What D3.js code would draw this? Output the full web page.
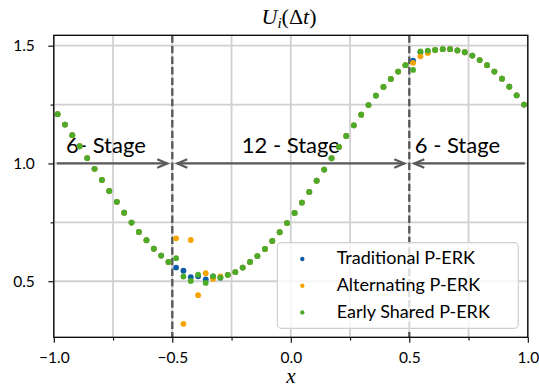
<!DOCTYPE html>
<html>
<head>
<meta charset="utf-8">
<script src="https://cdn.jsdelivr.net/npm/d3@7"></script>
<style>
  body { margin: 0; background: #fff; }
  svg { display: block; }
</style>
</head>
<body>
<svg id="chart" width="539" height="387"></svg>
<script>
// Cell-centre coordinates of the 64-cell grid on [-1, 1]
const cellX = [
  -0.984, -0.953, -0.922, -0.891, -0.859, -0.828, -0.797, -0.766,
  -0.734, -0.703, -0.672, -0.641, -0.609, -0.578, -0.547, -0.516,
  -0.484, -0.453, -0.422, -0.391, -0.359, -0.328, -0.297, -0.266,
  -0.234, -0.203, -0.172, -0.141, -0.109, -0.078, -0.047, -0.016,
   0.016,  0.047,  0.078,  0.109,  0.141,  0.172,  0.203,  0.234,
   0.266,  0.297,  0.328,  0.359,  0.391,  0.422,  0.453,  0.484,
   0.516,  0.547,  0.578,  0.609,  0.641,  0.672,  0.703,  0.734,
   0.766,  0.797,  0.828,  0.859,  0.891,  0.922,  0.953,  0.984
];

// U_i after one step, per scheme
const traditional = [
  1.209, 1.165, 1.120, 1.073, 1.023, 0.977, 0.930, 0.883, 0.837, 0.791,
  0.749, 0.709, 0.674, 0.638, 0.609, 0.582, 0.558, 0.545, 0.517, 0.521,
  0.508, 0.521, 0.515, 0.527, 0.539, 0.558, 0.582, 0.607, 0.637, 0.671,
  0.708, 0.747, 0.790, 0.834, 0.879, 0.927, 0.974, 1.022, 1.070, 1.117,
  1.162, 1.207, 1.248, 1.288, 1.325, 1.359, 1.390, 1.417, 1.436, 1.472,
  1.476, 1.482, 1.485, 1.485, 1.480, 1.472, 1.458, 1.439, 1.417, 1.390,
  1.360, 1.326, 1.289, 1.250
];
const alternating = [
  1.209, 1.165, 1.120, 1.073, 1.023, 0.977, 0.930, 0.883, 0.837, 0.791,
  0.749, 0.709, 0.674, 0.638, 0.609, 0.582, 0.682, 0.319, 0.675, 0.441,
  0.534, 0.510, 0.520, 0.527, 0.539, 0.558, 0.582, 0.607, 0.637, 0.671,
  0.708, 0.747, 0.790, 0.834, 0.879, 0.927, 0.974, 1.022, 1.070, 1.117,
  1.162, 1.207, 1.248, 1.288, 1.325, 1.359, 1.390, 1.417, 1.427, 1.455,
  1.469, 1.482, 1.485, 1.485, 1.480, 1.472, 1.458, 1.439, 1.417, 1.390,
  1.360, 1.326, 1.289, 1.250
];
const earlyShared = [
  1.209, 1.165, 1.120, 1.073, 1.023, 0.977, 0.930, 0.883, 0.837, 0.791,
  0.749, 0.709, 0.674, 0.638, 0.609, 0.582, 0.598, 0.520, 0.501, 0.528,
  0.493, 0.521, 0.515, 0.527, 0.539, 0.558, 0.582, 0.607, 0.637, 0.671,
  0.708, 0.747, 0.790, 0.834, 0.879, 0.927, 0.974, 1.022, 1.070, 1.117,
  1.162, 1.207, 1.248, 1.288, 1.325, 1.359, 1.390, 1.417, 1.397, 1.476,
  1.479, 1.482, 1.485, 1.485, 1.480, 1.472, 1.458, 1.439, 1.417, 1.390,
  1.360, 1.326, 1.289, 1.250
];

const seriesNames = ["Traditional P-ERK", "Alternating P-ERK", "Early Shared P-ERK"];
const seriesColors = ["#0c5da5", "#f7a400", "#4dab2a"];

// Stage regions and their labels
const stageBounds = [-1, -0.5, 0.5, 1];
const stageLabels = ["6- Stage", "12 - Stage", "6 - Stage"];
const stageLabelX = [-0.78, 0.0, 0.703];
const stageLabelY = 1.045;
const arrowY = 1.0;

const xMajor = [-1, -0.5, 0, 0.5, 1];
const xMinor = [-0.75, -0.25, 0.25, 0.75];
const yMajor = [0.5, 1.0, 1.5];
const yMinor = [0.75, 1.25];

const svg = d3.select("#chart");
const plotL = 53.8, plotR = 527.8, plotT = 35.3, plotB = 337.3;

const x = d3.scaleLinear().domain([-1, 1]).range([plotL, plotR]);
const y = d3.scaleLinear().domain([0.262, 1.544]).range([plotB, plotT]);

const FONT = "Lato, 'Open Sans', sans-serif";
const SERIF = "'Liberation Serif', 'DejaVu Serif', serif";

// Grid
const grid = svg.append("g").attr("stroke", "#d0d0d0").attr("stroke-width", 1.8);
xMajor.concat(xMinor).forEach(v => {
  grid.append("line").attr("x1", x(v)).attr("x2", x(v)).attr("y1", plotT).attr("y2", plotB);
});
yMajor.concat(yMinor).forEach(v => {
  grid.append("line").attr("x1", plotL).attr("x2", plotR).attr("y1", y(v)).attr("y2", y(v));
});

// Stage boundaries
const dashes = svg.append("g");
[stageBounds[1], stageBounds[2]].forEach(v => {
  dashes.append("line")
    .attr("x1", x(v)).attr("x2", x(v)).attr("y1", plotT).attr("y2", plotB)
    .attr("stroke", "#555").attr("stroke-width", 2.3).attr("stroke-dasharray", "7.4,3.2");
});

// Stage arrows
function arrowHead(g, tipX, tipY, dir) {
  const len = 10, half = 4.3;
  g.append("path")
    .attr("d", `M${tipX - dir * len},${tipY - half} L${tipX},${tipY} L${tipX - dir * len},${tipY + half}`)
    .attr("fill", "none").attr("stroke", "#5a5a5a").attr("stroke-width", 2.2)
    .attr("stroke-linejoin", "miter");
}
const arrows = svg.append("g");
const ay = y(arrowY);
const headGap = 5, tailGap = 3;
const arrowSpecs = [
  { from: stageBounds[0], to: stageBounds[1], startHead: false, endHead: true },
  { from: stageBounds[1], to: stageBounds[2], startHead: true, endHead: true },
  { from: stageBounds[2], to: stageBounds[3], startHead: true, endHead: false }
];
arrowSpecs.forEach(s => {
  const x0 = x(s.from) + (s.startHead ? headGap : tailGap);
  const x1 = x(s.to) - (s.endHead ? headGap : tailGap);
  arrows.append("line").attr("x1", x0).attr("x2", x1).attr("y1", ay).attr("y2", ay)
    .attr("stroke", "#5a5a5a").attr("stroke-width", 2.2);
  if (s.endHead) arrowHead(arrows, x1, ay, 1);
  if (s.startHead) arrowHead(arrows, x0, ay, -1);
});

// Stage labels
svg.append("g").selectAll("text").data(stageLabels).join("text")
  .attr("x", (d, i) => x(stageLabelX[i]))
  .attr("y", y(stageLabelY))
  .attr("text-anchor", "middle")
  .attr("font-family", FONT).attr("font-size", 22).attr("fill", "#000")
  .text(d => d);

// Points
const allSeries = [traditional, alternating, earlyShared];
allSeries.forEach((vals, si) => {
  svg.append("g").selectAll("circle").data(vals).join("circle")
    .attr("cx", (d, i) => x(cellX[i]))
    .attr("cy", d => y(d))
    .attr("r", 2.9)
    .attr("fill", seriesColors[si]);
});

// Frame
svg.append("rect").attr("x", plotL).attr("y", plotT)
  .attr("width", plotR - plotL).attr("height", plotB - plotT)
  .attr("fill", "none").attr("stroke", "#000").attr("stroke-width", 1.3);

// Axes
const fmt = d3.format(".1f");
const xAxis = svg.append("g").attr("transform", `translate(0,${plotB})`)
  .call(d3.axisBottom(x).tickValues(xMajor).tickFormat(fmt).tickSize(5.5).tickPadding(9));
const xAxisMinor = svg.append("g").attr("transform", `translate(0,${plotB})`)
  .call(d3.axisBottom(x).tickValues(xMinor).tickFormat("").tickSize(3.2));
const yAxis = svg.append("g").attr("transform", `translate(${plotL},0)`)
  .call(d3.axisLeft(y).tickValues(yMajor).tickFormat(fmt).tickSize(5.5).tickPadding(13.5));
const yAxisMinor = svg.append("g").attr("transform", `translate(${plotL},0)`)
  .call(d3.axisLeft(y).tickValues(yMinor).tickFormat("").tickSize(3.2));
[xAxis, xAxisMinor, yAxis, yAxisMinor].forEach(g => {
  g.select(".domain").remove();
  g.selectAll(".tick line").attr("stroke", "#000").attr("stroke-width", 1.1);
  g.selectAll(".tick text").attr("font-family", FONT).attr("font-size", 15.5).attr("fill", "#000");
});

// Title
const title = svg.append("text").attr("x", 289).attr("y", 24)
  .attr("text-anchor", "middle").attr("font-family", SERIF).attr("font-size", 22).attr("fill", "#000");
title.append("tspan").attr("font-style", "italic").text("U");
title.append("tspan").attr("font-style", "italic").attr("font-size", 15).attr("dy", 4).text("i");
title.append("tspan").attr("dy", -4).text("(Δ");
title.append("tspan").attr("font-style", "italic").text("t");
title.append("tspan").text(")");

// Axis label
svg.append("text").attr("x", x(0)).attr("y", 383)
  .attr("text-anchor", "middle").attr("font-family", SERIF).attr("font-style", "italic")
  .attr("font-size", 21).attr("fill", "#000").text("x");

// Legend
const legend = svg.append("g");
legend.append("rect").attr("x", 277.3).attr("y", 242.7).attr("width", 241).attr("height", 85.6)
  .attr("rx", 4).attr("fill", "#fff").attr("fill-opacity", 0.8)
  .attr("stroke", "#cfcfcf").attr("stroke-width", 1.2);
seriesNames.forEach((name, i) => {
  const ry = 259 + i * 26.7;
  legend.append("circle").attr("cx", 302.3).attr("cy", ry).attr("r", 2.2).attr("fill", seriesColors[i]);
  legend.append("text").attr("x", 336.7).attr("y", ry + 5.3)
    .attr("font-family", FONT).attr("font-size", 18).attr("fill", "#000").text(name);
});
</script>
</body>
</html>
